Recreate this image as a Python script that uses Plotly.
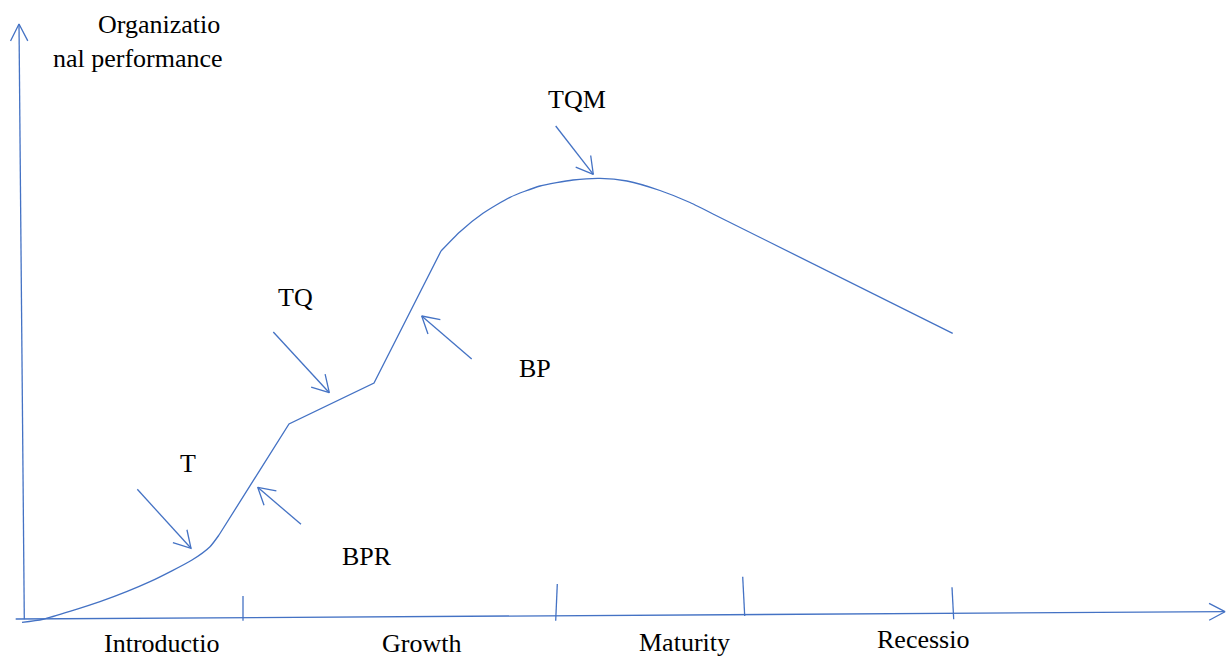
import numpy as np
import plotly.graph_objects as go

# ---------------- data (time units on x, performance units on y) ----------------
stage_labels = ["Introductio", "Growth", "Maturity", "Recessio"]
stage_label_x = [142, 401, 664, 903]
stage_label_y = [-23, -23, -22.4, -19.4]

# stage boundary ticks (x bottom, x top, y bottom, y top)
tick_x0 = [223, 535.7, 724.7, 933.7]
tick_x1 = [223, 537.3, 722.7, 932.0]
tick_y0 = [-0.7, -0.7, 4.0, 0.7]
tick_y1 = [24.0, 36.0, 43.3, 32.7]

# performance curve pieces
intro_x = [2, 23, 80, 130, 172, 190, 199]
intro_y = [-2.3, 0.7, 18.3, 38.3, 60, 73.3, 85]
steps_x = [199, 269, 354, 421]
steps_y = [85, 196, 237, 369]
peak_x = [421, 440, 463, 490, 520, 553, 580, 607, 640, 670, 693]
peak_y = [369, 388.3, 406.7, 422.7, 434, 440, 441.7, 439, 429.5, 417.5, 406]
decline_x = [693, 932.7]
decline_y = [406, 286.7]

# axes (start, end)
yaxis_x = [4.3, -1]
yaxis_y = [0.7, 596]
xaxis_x = [-4.3, 1205]
xaxis_y = [1.0, 8.3]

# method labels
method_labels = ["T", "BPR", "TQ", "BP", "TQM"]
method_x = [168, 346.7, 275, 514.7, 557]
method_y = [157, 63.6, 322.6, 252, 520.3]

# arrows: tail -> tip
arrow_tail_x = [117.3, 281, 253.3, 451.7, 535.7]
arrow_tail_y = [130.7, 95.7, 288, 261, 494]
arrow_tip_x = [171, 237.7, 309.3, 401.7, 573.3]
arrow_tip_y = [71.7, 132.7, 227.3, 304, 445.7]

axis_title_lines = ["Organizatio", "nal performance"]
axis_title_right_x = [201.7, 205]
axis_title_y = [595.9, 561.9]

# ---------------- styles ----------------
BLUE = "#4472C4"
LW = 1.3
FONT = "Liberation Serif, Times New Roman, serif"
FS = 26

fig = go.Figure()


def seg(xs, ys, shape="linear", w=LW):
    fig.add_trace(go.Scatter(x=xs, y=ys, mode="lines",
                             line=dict(color=BLUE, width=w, shape=shape, smoothing=0.6),
                             hoverinfo="skip", showlegend=False))


def open_head(tx, ty, dx, dy, length=19, ang=30):
    n = np.hypot(dx, dy)
    ux, uy = dx / n, dy / n  # direction from tip back toward tail
    pts = []
    for a in (ang, -ang):
        r = np.deg2rad(a)
        wx = ux * np.cos(r) - uy * np.sin(r)
        wy = ux * np.sin(r) + uy * np.cos(r)
        pts.append((tx + wx * length, ty + wy * length))
    seg([pts[0][0], tx, pts[1][0]], [pts[0][1], ty, pts[1][1]])


# axes
seg(yaxis_x, yaxis_y)
open_head(yaxis_x[1], yaxis_y[1], yaxis_x[0] - yaxis_x[1], yaxis_y[0] - yaxis_y[1], length=19, ang=27)
seg(xaxis_x, xaxis_y)
open_head(xaxis_x[1], xaxis_y[1], xaxis_x[0] - xaxis_x[1], xaxis_y[0] - xaxis_y[1], length=18, ang=28)

# ticks
for a, b, c, d in zip(tick_x0, tick_x1, tick_y0, tick_y1):
    seg([a, b], [c, d])

# curve
seg(intro_x, intro_y, shape="spline")
seg(steps_x, steps_y)
seg(peak_x, peak_y, shape="spline")
seg(decline_x, decline_y)

# arrows
for tx0, ty0, tx1, ty1 in zip(arrow_tail_x, arrow_tail_y, arrow_tip_x, arrow_tip_y):
    seg([tx0, tx1], [ty0, ty1])
    open_head(tx1, ty1, tx0 - tx1, ty0 - ty1)

annotations = []
for t, x, y in zip(stage_labels, stage_label_x, stage_label_y):
    annotations.append(dict(x=x, y=y, text=t, xanchor="center", yanchor="middle"))
for t, x, y in zip(method_labels, method_x, method_y):
    annotations.append(dict(x=x, y=y, text=t, xanchor="center", yanchor="middle"))
for t, x, y in zip(axis_title_lines, axis_title_right_x, axis_title_y):
    annotations.append(dict(x=x, y=y, text=t, xanchor="right", yanchor="middle"))
for a in annotations:
    a.update(xref="x", yref="y", showarrow=False,
             font=dict(family=FONT, size=FS, color="black"))

fig.update_layout(
    width=1227, height=658, autosize=False,
    margin=dict(l=0, r=0, t=0, b=0, pad=0),
    paper_bgcolor="white", plot_bgcolor="white",
    xaxis=dict(range=[-20, 1207], visible=False, fixedrange=True),
    yaxis=dict(range=[-38, 620], visible=False, fixedrange=True),
    annotations=annotations,
    showlegend=False,
)

fig.write_html("out.html", config={"displayModeBar": False},
               post_script="document.body.style.margin='0';document.body.style.overflow='hidden';")
